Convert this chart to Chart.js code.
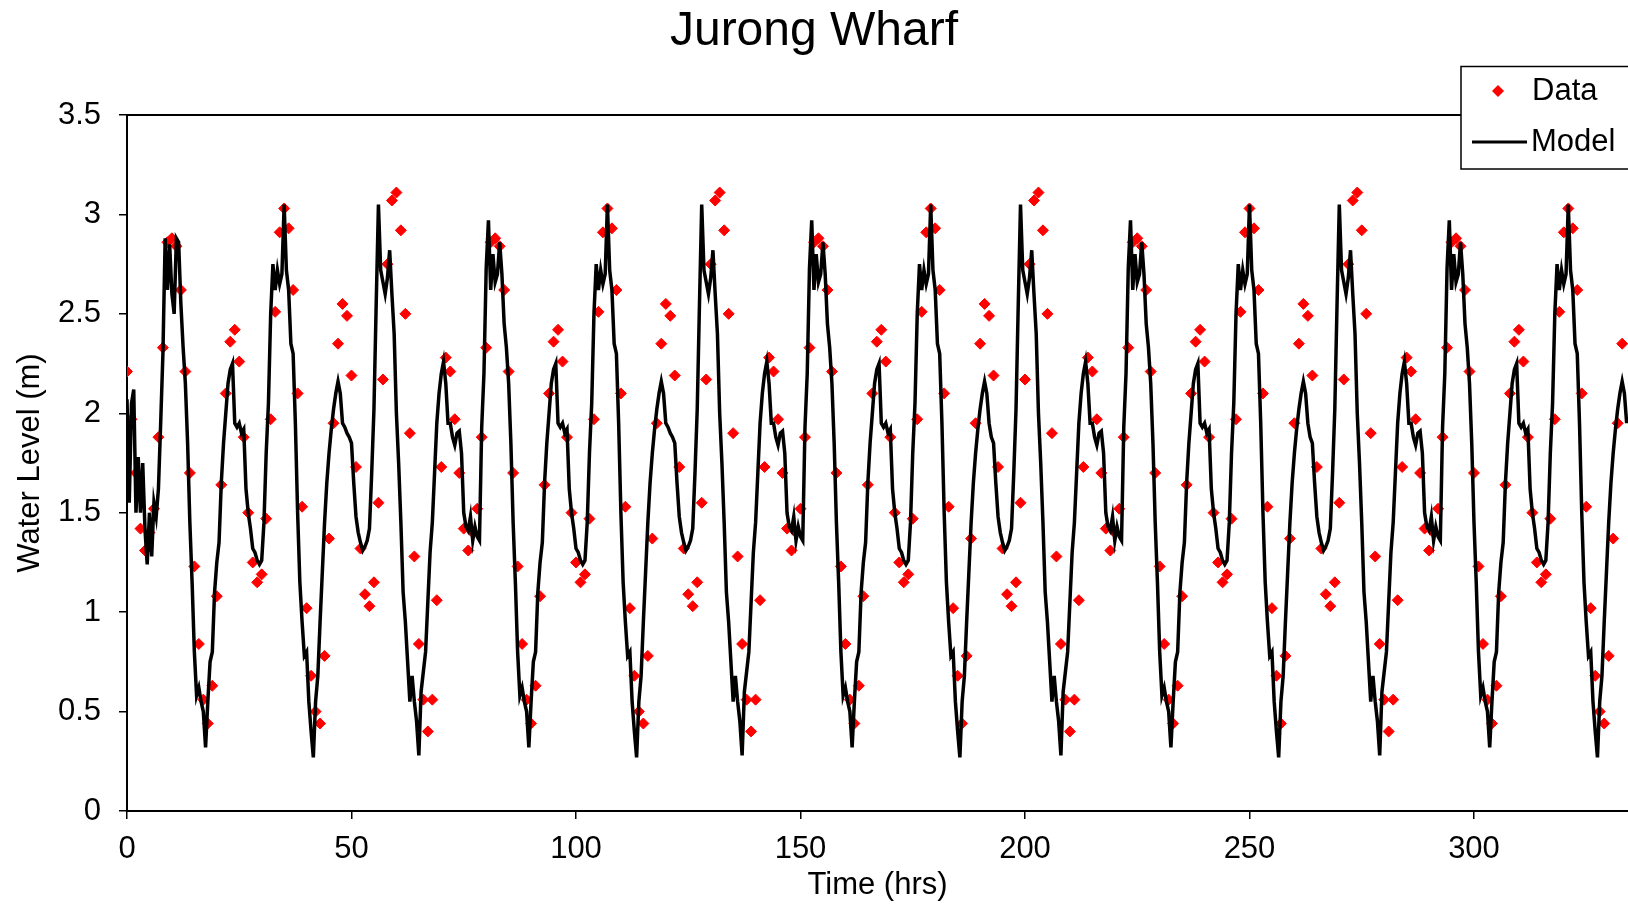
<!DOCTYPE html>
<html>
<head>
<meta charset="utf-8">
<title>Jurong Wharf</title>
<script src="https://cdn.jsdelivr.net/npm/chart.js@4.4.1/dist/chart.umd.min.js"></script>
<style>
  html, body { margin: 0; padding: 0; background: #fff; }
  #wrap { width: 1628px; height: 904px; position: relative; }
</style>
</head>
<body>
<div id="wrap"><canvas id="tideChart"></canvas></div>
<script>
// Measured water level, one reading per hour starting at t = 0 hrs
var dataLevel = [
    // 0 - 71
    2.21,1.97,1.70,1.42,1.31,1.40,1.52,1.88,2.33,2.86,2.88,2.84,2.62,2.21,1.70,1.23,0.84,0.56,0.44,0.63,
    1.08,1.64,2.10,2.36,2.42,2.26,1.88,1.50,1.25,1.15,1.19,1.47,1.97,2.51,2.91,3.03,2.93,2.62,2.10,1.53,
    1.02,0.68,0.50,0.44,0.78,1.37,1.95,2.35,2.55,2.49,2.19,1.73,1.32,1.09,1.03,1.15,1.55,2.17,2.75,3.07,
    3.11,2.92,2.50,1.90,1.28,0.84,0.56,0.40,0.56,1.06,1.73,2.28,
    // 72 - 143
    2.21,1.97,1.70,1.42,1.31,1.40,1.52,1.88,2.33,2.86,2.88,2.84,2.62,2.21,1.70,1.23,0.84,0.56,0.44,0.63,
    1.08,1.64,2.10,2.36,2.42,2.26,1.88,1.50,1.25,1.15,1.19,1.47,1.97,2.51,2.91,3.03,2.93,2.62,2.10,1.53,
    1.02,0.68,0.50,0.44,0.78,1.37,1.95,2.35,2.55,2.49,2.19,1.73,1.32,1.09,1.03,1.15,1.55,2.17,2.75,3.07,
    3.11,2.92,2.50,1.90,1.28,0.84,0.56,0.40,0.56,1.06,1.73,2.28,
    // 144 - 214
    2.21,1.97,1.70,1.42,1.31,1.40,1.52,1.88,2.33,2.86,2.88,2.84,2.62,2.21,1.70,1.23,0.84,0.56,0.44,0.63,
    1.08,1.64,2.10,2.36,2.42,2.26,1.88,1.50,1.25,1.15,1.19,1.47,1.97,2.51,2.91,3.03,2.93,2.62,2.10,1.53,
    1.02,0.68,0.44,0.78,1.37,1.95,2.35,2.55,2.49,2.19,1.73,1.32,1.09,1.03,1.15,1.55,2.17,2.75,3.07,
    3.11,2.92,2.50,1.90,1.28,0.84,0.56,0.40,0.56,1.06,1.73,2.28,
    // 215 - 285
    2.21,1.97,1.70,1.42,1.31,1.40,1.52,1.88,2.33,2.86,2.88,2.84,2.62,2.21,1.70,1.23,0.84,0.56,0.44,0.63,
    1.08,1.64,2.10,2.36,2.42,2.26,1.88,1.50,1.25,1.15,1.19,1.47,1.97,2.51,2.91,3.03,2.93,2.62,2.10,1.53,
    1.02,0.68,0.44,0.78,1.37,1.95,2.35,2.55,2.49,2.19,1.73,1.32,1.09,1.03,1.15,1.55,2.17,2.75,3.07,
    3.11,2.92,2.50,1.90,1.28,0.84,0.56,0.40,0.56,1.06,1.73,2.28,
    // 286 - 333
    2.21,1.97,1.70,1.42,1.31,1.40,1.52,1.88,2.33,2.86,2.88,2.84,2.62,2.21,1.70,1.23,0.84,0.56,0.44,0.63,
    1.08,1.64,2.10,2.36,2.42,2.26,1.88,1.50,1.25,1.15,1.19,1.47,1.97,2.51,2.91,3.03,2.93,2.62,2.10,1.53,
    1.02,0.68,0.50,0.44,0.78,1.37,1.95,2.35
];
var dataStepHrs = 1;

// Model output, every half hour starting at t = 0 hrs
var modelLevel = [
    // 0 - 71.5
    2.07,1.55,2.05,2.12,1.50,1.78,1.50,1.75,1.42,1.24, 1.50,1.28,1.55,1.48,1.62,1.95,2.30,2.88,2.62,2.85,
    2.60,2.50,2.88,2.86,2.55,2.33,2.15,1.85,1.45,1.15, 0.80,0.58,0.62,0.55,0.50,0.32,0.55,0.75,0.80,1.10,
    1.25,1.35,1.65,1.85,2.00,2.15,2.22,2.25,1.95,1.93, 1.95,1.90,1.92,1.62,1.50,1.42,1.32,1.30,1.26,1.24,
    1.26,1.45,1.80,2.05,2.50,2.75,2.62,2.72,2.65,2.70, 3.05,2.72,2.62,2.35,2.30,1.95,1.50,1.15,0.95,0.78,
    0.80,0.55,0.40,0.27,0.55,0.68,0.95,1.20,1.45,1.65, 1.80,1.92,2.02,2.10,2.16,2.10,1.95,1.93,1.90,1.88,
    1.85,1.65,1.48,1.40,1.35,1.31,1.33,1.36,1.42,1.70, 2.02,2.55,3.05,2.72,2.66,2.60,2.68,2.82,2.60,2.40,
    2.00,1.75,1.45,1.10,0.95,0.75,0.55,0.68,0.55,0.45, 0.28,0.60,0.70,0.80,1.05,1.30,1.45,1.70,1.95,2.10,
    2.20,2.26,2.15,1.95,
    // 72 - 143.5
    1.95,1.88,1.84,1.90,1.91,1.80,1.50,1.43,1.41,1.48, 1.36,1.43,1.38,1.36,1.93,2.20,2.73,2.97,2.62,2.80,
    2.66,2.70,2.86,2.70,2.45,2.33,2.15,1.85,1.45,1.15, 0.80,0.58,0.62,0.55,0.50,0.32,0.55,0.75,0.80,1.10,
    1.25,1.35,1.65,1.85,2.00,2.15,2.22,2.25,1.95,1.93, 1.95,1.90,1.92,1.62,1.50,1.42,1.32,1.30,1.26,1.24,
    1.26,1.45,1.80,2.05,2.50,2.75,2.62,2.72,2.65,2.70, 3.05,2.72,2.62,2.35,2.30,1.95,1.50,1.15,0.95,0.78,
    0.80,0.55,0.40,0.27,0.55,0.68,0.95,1.20,1.45,1.65, 1.80,1.92,2.02,2.10,2.16,2.10,1.95,1.93,1.90,1.88,
    1.85,1.65,1.48,1.40,1.35,1.31,1.33,1.36,1.42,1.70, 2.02,2.55,3.05,2.72,2.66,2.60,2.68,2.82,2.60,2.40,
    2.00,1.75,1.45,1.10,0.95,0.75,0.55,0.68,0.55,0.45, 0.28,0.60,0.70,0.80,1.05,1.30,1.45,1.70,1.95,2.10,
    2.20,2.26,2.15,1.95,
    // 144 - 214.5
    1.95,1.88,1.84,1.90,1.91,1.80,1.50,1.43,1.41,1.48, 1.36,1.43,1.38,1.36,1.93,2.20,2.73,2.97,2.62,2.80,
    2.66,2.70,2.86,2.70,2.45,2.33,2.15,1.85,1.45,1.15, 0.80,0.58,0.62,0.55,0.50,0.32,0.55,0.75,0.80,1.10,
    1.25,1.35,1.65,1.85,2.00,2.15,2.22,2.25,1.95,1.93, 1.95,1.90,1.92,1.62,1.50,1.42,1.32,1.30,1.26,1.24,
    1.26,1.45,1.80,2.05,2.50,2.75,2.62,2.72,2.65,2.70, 3.05,2.72,2.62,2.35,2.30,1.95,1.50,1.15,0.95,0.78,
    0.80,0.55,0.40,0.27,0.55,0.68,0.95,1.20,1.45,1.65, 1.80,1.92,2.02,2.10,2.16,2.10,1.95,1.88,
    1.85,1.65,1.48,1.40,1.35,1.31,1.33,1.36,1.42,1.70, 2.02,2.55,3.05,2.72,2.66,2.60,2.68,2.82,2.60,2.40,
    2.00,1.75,1.45,1.10,0.95,0.75,0.55,0.68,0.55,0.45, 0.28,0.60,0.70,0.80,1.05,1.30,1.45,1.70,1.95,2.10,
    2.20,2.26,2.15,1.95,
    // 215 - 285.5
    1.95,1.88,1.84,1.90,1.91,1.80,1.50,1.43,1.41,1.48, 1.36,1.43,1.38,1.36,1.93,2.20,2.73,2.97,2.62,2.80,
    2.66,2.70,2.86,2.70,2.45,2.33,2.15,1.85,1.45,1.15, 0.80,0.58,0.62,0.55,0.50,0.32,0.55,0.75,0.80,1.10,
    1.25,1.35,1.65,1.85,2.00,2.15,2.22,2.25,1.95,1.93, 1.95,1.90,1.92,1.62,1.50,1.42,1.32,1.30,1.26,1.24,
    1.26,1.45,1.80,2.05,2.50,2.75,2.62,2.72,2.65,2.70, 3.05,2.72,2.62,2.35,2.30,1.95,1.50,1.15,0.95,0.78,
    0.80,0.55,0.40,0.27,0.55,0.68,0.95,1.20,1.45,1.65, 1.80,1.92,2.02,2.10,2.16,2.10,1.95,1.88,
    1.85,1.65,1.48,1.40,1.35,1.31,1.33,1.36,1.42,1.70, 2.02,2.55,3.05,2.72,2.66,2.60,2.68,2.82,2.60,2.40,
    2.00,1.75,1.45,1.10,0.95,0.75,0.55,0.68,0.55,0.45, 0.28,0.60,0.70,0.80,1.05,1.30,1.45,1.70,1.95,2.10,
    2.20,2.26,2.15,1.95,
    // 286 - 334
    1.95,1.88,1.84,1.90,1.91,1.80,1.50,1.43,1.41,1.48, 1.36,1.43,1.38,1.36,1.93,2.20,2.73,2.97,2.62,2.80,
    2.66,2.70,2.86,2.70,2.45,2.33,2.15,1.85,1.45,1.15, 0.80,0.58,0.62,0.55,0.50,0.32,0.55,0.75,0.80,1.10,
    1.25,1.35,1.65,1.85,2.00,2.15,2.22,2.25,1.95,1.93, 1.95,1.90,1.92,1.62,1.50,1.42,1.32,1.30,1.26,1.24,
    1.26,1.45,1.80,2.05,2.50,2.75,2.62,2.72,2.65,2.70, 3.05,2.72,2.62,2.35,2.30,1.95,1.50,1.15,0.95,0.78,
    0.80,0.55,0.40,0.27,0.55,0.68,0.95,1.20,1.45,1.65, 1.80,1.92,2.02,2.10,2.16,2.10,1.95
];
var modelStepHrs = 0.5;

var xTickValues = [0, 50, 100, 150, 200, 250, 300];
var yTickValues = [0, 0.5, 1, 1.5, 2, 2.5, 3, 3.5];

var FONT = "'Liberation Sans', Arial, sans-serif";
Chart.defaults.font.family = FONT;
Chart.defaults.color = '#000';

// box line along the top of the plot plus the small legend in the corner
var framePlugin = {
    id: 'frame',
    afterDatasetsDraw: function (chart) {
        var ctx = chart.ctx, a = chart.chartArea;
        ctx.save();
        ctx.strokeStyle = '#000';
        ctx.lineWidth = 2;
        ctx.beginPath();
        ctx.moveTo(a.left, a.top);
        ctx.lineTo(a.right, a.top);
        ctx.stroke();
        ctx.restore();
    },
    afterDraw: function (chart) {
        var ctx = chart.ctx;
        ctx.save();
        ctx.fillStyle = '#fff';
        ctx.strokeStyle = '#000';
        ctx.lineWidth = 1.5;
        ctx.fillRect(1461, 66.5, 170, 102.5);
        ctx.strokeRect(1461, 66.5, 170, 102.5);

        // Data marker
        ctx.fillStyle = '#ff0000';
        ctx.beginPath();
        ctx.moveTo(1492, 91);
        ctx.lineTo(1498, 85);
        ctx.lineTo(1504, 91);
        ctx.lineTo(1498, 97);
        ctx.closePath();
        ctx.fill();

        // Model line sample
        ctx.strokeStyle = '#000';
        ctx.lineWidth = 3;
        ctx.beginPath();
        ctx.moveTo(1472, 142);
        ctx.lineTo(1527, 142);
        ctx.stroke();

        ctx.fillStyle = '#000';
        ctx.font = '31px ' + FONT;
        ctx.textAlign = 'left';
        ctx.textBaseline = 'middle';
        ctx.fillText('Data', 1532, 91);
        ctx.fillText('Model', 1531, 142);
        ctx.restore();
    }
};

var ctxTide = document.getElementById('tideChart').getContext('2d');
var tideChart = new Chart(ctxTide, {
    type: 'scatter',
    data: {
        datasets: [{
            label: 'Model',
            data: modelLevel.map(function (v, i) { return { x: i * modelStepHrs, y: v }; }),
            showLine: true,
            borderColor: '#000',
            borderWidth: 3.5,
            pointRadius: 0,
            tension: 0,
            order: 0
        }, {
            label: 'Data',
            data: dataLevel.map(function (v, i) { return { x: i * dataStepHrs, y: v }; }),
            showLine: false,
            pointStyle: 'rectRot',
            pointRadius: 5.5,
            backgroundColor: '#ff0000',
            borderColor: '#ff0000',
            borderWidth: 1,
            order: 1
        }]
    },
    options: {
        responsive: true,
        maintainAspectRatio: false,
        animation: false,
        devicePixelRatio: 1,
        layout: { padding: 0, autoPadding: false },
        plugins: {
            legend: { display: false },
            tooltip: { enabled: false },
            title: {
                display: true,
                text: 'Jurong Wharf',
                color: '#000',
                font: { family: FONT, size: 48, weight: 'normal' },
                padding: { top: 3, bottom: 54.4 }
            }
        },
        scales: {
            x: {
                type: 'linear',
                min: 0,
                max: 334.3,
                afterBuildTicks: function (scale) {
                    scale.ticks = xTickValues.map(function (v) { return { value: v }; });
                },
                afterFit: function (scale) {
                    scale.height = 93;
                    scale.paddingRight = 0;
                    scale.paddingLeft = 0;
                },
                border: { display: true, color: '#000', width: 2 },
                grid: { drawOnChartArea: false, drawTicks: true, tickLength: 8, color: '#000', lineWidth: 1.5 },
                ticks: {
                    font: { size: 31 }, color: '#000', padding: 12, maxRotation: 0, autoSkip: false,
                    callback: function (v) { return String(v); }
                },
                title: {
                    display: true,
                    text: 'Time (hrs)',
                    color: '#000',
                    font: { size: 31 },
                    padding: { top: 0, bottom: 0 }
                }
            },
            y: {
                min: 0,
                max: 3.5,
                afterBuildTicks: function (scale) {
                    scale.ticks = yTickValues.map(function (v) { return { value: v }; });
                },
                afterFit: function (scale) { scale.width = 127; },
                border: { display: true, color: '#000', width: 2 },
                grid: { drawOnChartArea: false, drawTicks: true, tickLength: 8, color: '#000', lineWidth: 1.5 },
                ticks: {
                    font: { size: 31 }, color: '#000', padding: 18,
                    callback: function (v) { return String(v); }
                },
                title: {
                    display: true,
                    text: 'Water Level (m)',
                    color: '#000',
                    font: { size: 31 },
                    padding: { top: 12, bottom: 0 }
                }
            }
        }
    },
    plugins: [framePlugin]
});
</script>
</body>
</html>
